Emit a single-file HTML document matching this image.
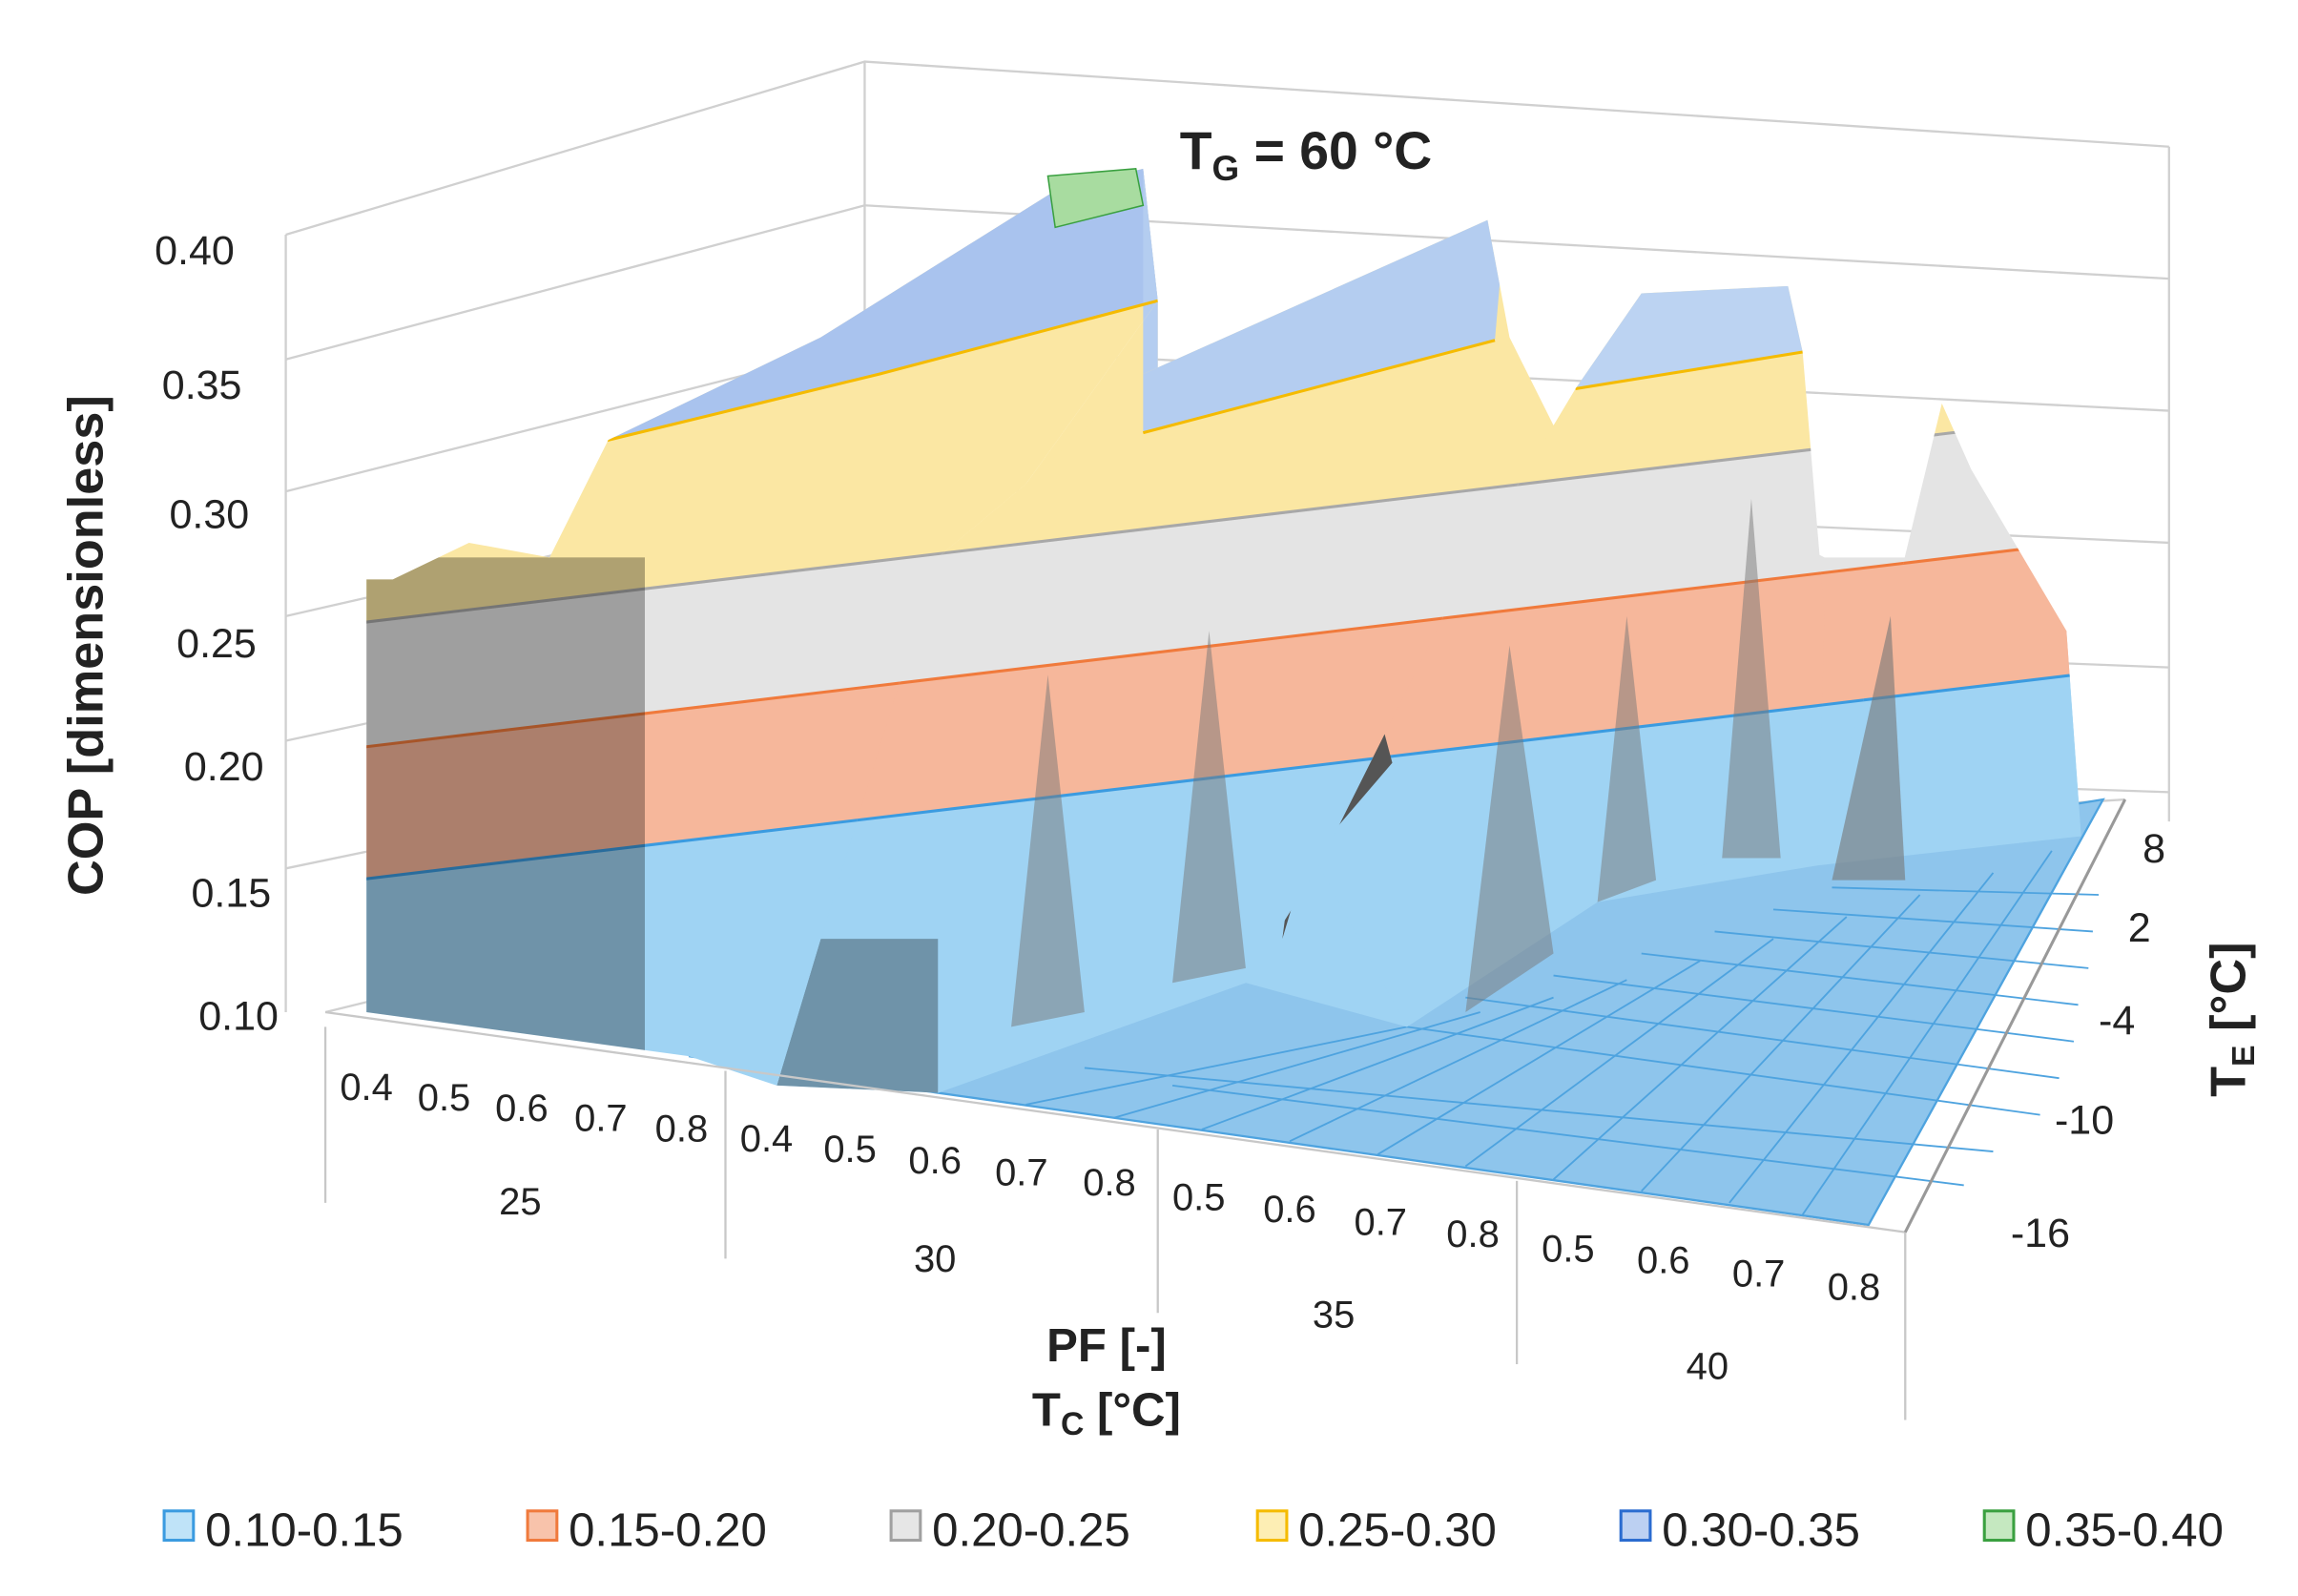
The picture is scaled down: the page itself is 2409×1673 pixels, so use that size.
<!DOCTYPE html>
<html><head><meta charset="utf-8"><style>
html,body{margin:0;padding:0;background:#fff;}
svg{display:block;}
text{font-family:"Liberation Sans",Arial,sans-serif;fill:#222;}
</style></head><body>
<svg width="2409" height="1673" viewBox="0 0 1568 1088" preserveAspectRatio="none" xmlns="http://www.w3.org/2000/svg">
<defs>
<g id="bands">
  <polygon points="200,1000 200,605 1500,450 1500,1000" fill="#9fd3f3"/>
  <polygon points="200,605 200,515 1500,360 1500,450" fill="#f6b79b"/>
  <polygon points="200,515 200,430 1500,275 1500,360" fill="#e4e4e4"/>
  <polygon points="200,430 200,0 1500,0 1500,275" fill="#fbe7a3"/>
  <polygon points="200,300 415,300 600,255 790,205 800,0 200,0" fill="#a9c3ee"/>
  <polygon points="780,295 1020,232 1040,0 780,0" fill="#b4cdf0"/>
  <polygon points="1075,265 1230,240 1240,0 1075,0" fill="#bcd3f2"/>
  <g stroke-width="2" fill="none">
    <polyline points="200,605 1500,450" stroke="#3b9be0"/>
    <polyline points="200,515 1500,360" stroke="#f07a3c"/>
    <polyline points="200,430 1500,275" stroke="#a8a8a8"/>
    <polyline points="200,300 415,300 600,255 790,205" stroke="#f5bb00"/>
    <polyline points="780,295 1020,232" stroke="#f5bb00"/>
    <polyline points="1075,265 1230,240" stroke="#f5bb00"/>
  </g>
</g>
<clipPath id="cv"><polygon points="470,720 640,380 700,330 790,205 790,260 1060,290 1245,380 1300,380 1410,430 1420,570 1240,590 1090,615 960,700 850,670 640,745"/></clipPath>
<clipPath id="c1"><polygon points="250,690 250,395 268,395 320,370 375,380 415,300 560,230 720,130 780,115 790,205 700,330 640,380 560,640 530,740 470,720"/></clipPath>
<clipPath id="c2"><polygon points="530,740 560,640 640,380 700,330 780,255 1015,150 1030,230 1060,290 1000,390 900,590 850,670 640,745"/></clipPath>
<clipPath id="c3"><polygon points="900,590 1000,390 1075,265 1120,200 1220,195 1230,240 1245,420 1240,590 1175,585 1090,615 960,700"/></clipPath>
<clipPath id="c4"><polygon points="1235,590 1290,420 1325,275 1345,320 1410,430 1420,570"/></clipPath>
</defs>
<g stroke="#d0d0d0" stroke-width="1.5" fill="none">
  <polyline points="195,160 590,42 1480,100"/>
  <line x1="195" y1="160" x2="195" y2="690"/>
  <line x1="590" y1="42" x2="590" y2="560"/>
  <line x1="1480" y1="100" x2="1480" y2="560"/>
  <polyline points="195,245 590,140 1480,190"/>
  <polyline points="195,335 590,235 1480,280"/>
  <polyline points="195,420 590,330 1480,370"/>
  <polyline points="195,505 590,420 1480,455"/>
  <polyline points="195,592 590,510 1480,540"/>
  <polyline points="222,690 590,600 1450,545"/>
</g>
<polygon points="470,720 640,745 1275,835 1435,545 1100,600 640,690" fill="#8ec5ec" stroke="#4ea3df" stroke-width="1.5"/>
<g stroke="#4ea3df" stroke-width="1.2">
  <line x1="700" y1="753" x2="960" y2="700"/><line x1="760" y1="762" x2="1010" y2="690"/>
  <line x1="820" y1="770" x2="1060" y2="680"/><line x1="880" y1="778" x2="1110" y2="668"/>
  <line x1="940" y1="787" x2="1160" y2="655"/><line x1="1000" y1="795" x2="1210" y2="640"/>
  <line x1="1060" y1="804" x2="1260" y2="625"/><line x1="1120" y1="812" x2="1310" y2="610"/>
  <line x1="1180" y1="820" x2="1360" y2="595"/><line x1="1230" y1="828" x2="1400" y2="580"/>
  <line x1="960" y1="700" x2="1392" y2="760"/><line x1="1000" y1="680" x2="1405" y2="735"/>
  <line x1="1060" y1="665" x2="1415" y2="710"/><line x1="1120" y1="650" x2="1418" y2="685"/>
  <line x1="1170" y1="635" x2="1425" y2="660"/><line x1="1210" y1="620" x2="1428" y2="635"/>
  <line x1="1250" y1="605" x2="1432" y2="610"/><line x1="800" y1="740" x2="1340" y2="808"/>
  <line x1="740" y1="728" x2="1360" y2="785"/>
</g>
<g clip-path="url(#cv)"><use href="#bands"/></g>
<g clip-path="url(#c4)"><use href="#bands"/></g>
<g clip-path="url(#c3)"><use href="#bands"/></g>
<polygon points="910,370 950,520 890,590 875,640" fill="#555"/>
<g clip-path="url(#c2)"><use href="#bands"/>
  <polygon points="530,740 560,640 640,640 640,745" fill="#000" opacity="0.3"/>
</g>
<g clip-path="url(#c1)"><use href="#bands"/>
  <rect x="250" y="380" width="190" height="340" fill="#000" opacity="0.3"/>
</g>
<polygon points="1250,600 1290,420 1300,600" fill="#777" opacity="0.6"/>
<polygon points="1000,690 1030,440 1060,650" fill="#777" opacity="0.5"/>
<polygon points="1090,615 1110,420 1130,600" fill="#777" opacity="0.5"/>
<polygon points="1175,585 1195,340 1215,585" fill="#777" opacity="0.5"/>
<polygon points="690,700 715,460 740,690" fill="#777" opacity="0.5"/>
<polygon points="800,670 825,430 850,660" fill="#777" opacity="0.5"/>
<polygon points="715,120 775,115 780,140 720,155" fill="#a8dca0" stroke="#3aa040"/>
<g stroke="#c8c8c8" stroke-width="1.5" fill="none">
  <polyline points="222,690 1300,840"/>
  <line x1="222" y1="700" x2="222" y2="820"/><line x1="495" y1="730" x2="495" y2="858"/>
  <line x1="790" y1="770" x2="790" y2="895"/><line x1="1035" y1="805" x2="1035" y2="930"/>
  <line x1="1300" y1="840" x2="1300" y2="968"/>
</g>
<g stroke="#999" stroke-width="2"><line x1="1300" y1="840" x2="1450" y2="545"/></g>
<g font-size="28" text-anchor="end">
  <text x="160" y="180">0.40</text><text x="165" y="272">0.35</text><text x="170" y="360">0.30</text>
  <text x="175" y="448">0.25</text><text x="180" y="532">0.20</text><text x="185" y="618">0.15</text><text x="190" y="702">0.10</text>
</g>
<g font-size="26" text-anchor="middle">
  <text x="250" y="750">0.4</text><text x="303" y="757">0.5</text><text x="356" y="764">0.6</text><text x="410" y="771">0.7</text><text x="465" y="778">0.8</text>
  <text x="523" y="785">0.4</text><text x="580" y="792">0.5</text><text x="638" y="800">0.6</text><text x="697" y="808">0.7</text><text x="757" y="815">0.8</text>
  <text x="818" y="825">0.5</text><text x="880" y="833">0.6</text><text x="942" y="842">0.7</text><text x="1005" y="850">0.8</text>
  <text x="1070" y="860">0.5</text><text x="1135" y="868">0.6</text><text x="1200" y="877">0.7</text><text x="1265" y="886">0.8</text>
  <text x="355" y="828">25</text><text x="638" y="867">30</text><text x="910" y="905">35</text><text x="1165" y="940">40</text>
</g>
<g font-size="28">
  <text x="1462" y="588">8</text><text x="1452" y="642">2</text><text x="1432" y="705">-4</text><text x="1402" y="773">-10</text><text x="1372" y="850">-16</text>
</g>
<text font-size="34" font-weight="bold" transform="translate(70,440) rotate(-90)" text-anchor="middle">COP [dimensionless]</text>
<text font-size="34" font-weight="bold" transform="translate(1532,695) rotate(-90)" text-anchor="middle">T<tspan font-size="22" dy="6">E</tspan><tspan dy="-6"> [°C]</tspan></text>
<text x="805" y="115" font-size="36" font-weight="bold">T<tspan font-size="24" dy="8">G</tspan><tspan dy="-8"> = 60 °C</tspan></text>
<text x="755" y="928" font-size="32" font-weight="bold" text-anchor="middle">PF [-]</text>
<text x="755" y="972" font-size="32" font-weight="bold" text-anchor="middle">T<tspan font-size="22" dy="6">C</tspan><tspan dy="-6"> [°C]</tspan></text>
<g font-size="32">
  <rect x="112" y="1030" width="20" height="20" fill="#bfe3f8" stroke="#3b9be0" stroke-width="2"/><text x="140" y="1054">0.10-0.15</text>
  <rect x="360" y="1030" width="20" height="20" fill="#f8c3ab" stroke="#f07a3c" stroke-width="2"/><text x="388" y="1054">0.15-0.20</text>
  <rect x="608" y="1030" width="20" height="20" fill="#e6e6e6" stroke="#a0a0a0" stroke-width="2"/><text x="636" y="1054">0.20-0.25</text>
  <rect x="858" y="1030" width="20" height="20" fill="#fdeeb4" stroke="#f5bb00" stroke-width="2"/><text x="886" y="1054">0.25-0.30</text>
  <rect x="1106" y="1030" width="20" height="20" fill="#bcd0f2" stroke="#2b6cd0" stroke-width="2"/><text x="1134" y="1054">0.30-0.35</text>
  <rect x="1354" y="1030" width="20" height="20" fill="#c5e8c0" stroke="#3aa040" stroke-width="2"/><text x="1382" y="1054">0.35-0.40</text>
</g>
</svg>
</body></html>
